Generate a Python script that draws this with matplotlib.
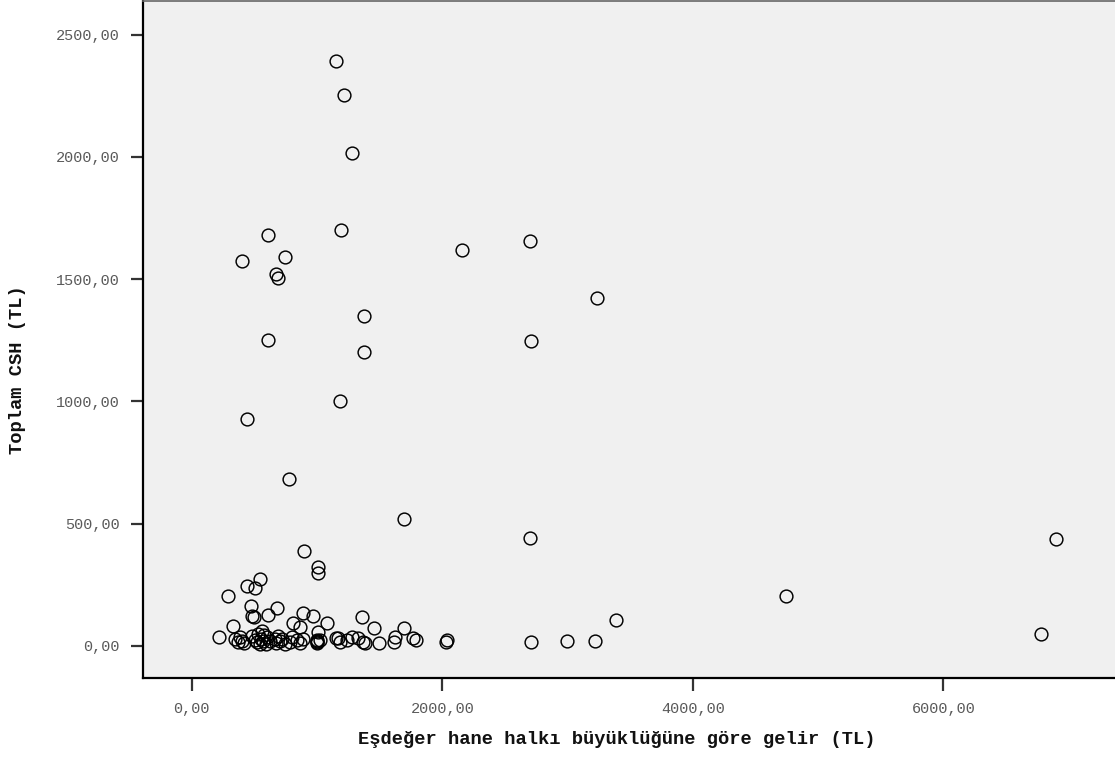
import matplotlib
matplotlib.use("Agg")
import matplotlib.pyplot as plt
from matplotlib.ticker import FixedLocator, FuncFormatter

# Equivalised household income (TL) and total health expenditure (TL)
gelir = [
    1152, 1215, 1279, 609, 1192, 2157, 2700, 402, 745, 673, 689, 3234,
    1375, 609, 2707, 1375, 1184, 441, 777, 1694, 2700, 6898, 897, 1010,
    1010, 543, 438, 505, 292, 4743, 471, 678, 3386, 6778, 2707, 2996, 3219,
    1357, 1082, 1455, 1694, 891, 970, 811, 864, 1010, 332, 479, 497, 611,
    218, 346, 370, 386, 402, 420, 481, 505, 521, 529, 545, 553, 561, 569,
    577, 593, 601, 625, 665, 673, 689, 705, 721, 745, 785, 801, 841, 865,
    889, 1000, 1000, 1000, 1000, 1025, 1152, 1170, 1184, 1241, 1277, 1330,
    1370, 1383, 1497, 1615, 1622, 1769, 1790, 2030, 2035,
]
csh = [
    2392, 2253, 2016, 1680, 1701, 1619, 1656, 1574, 1590, 1521, 1504, 1423,
    1349, 1251, 1247, 1202, 1002, 928, 683, 519, 442, 437, 388, 322,
    300, 274, 245, 238, 206, 204, 165, 157, 106, 49, 16, 20, 20,
    120, 95, 75, 75, 136, 123, 95, 79, 58, 82, 123, 120, 127,
    36, 30, 18, 35, 22, 12, 40, 25, 15, 50, 8, 30, 60, 20,
    45, 10, 35, 22, 30, 12, 40, 20, 28, 8, 18, 36, 25, 12,
    30, 12, 20, 25, 15, 25, 32, 32, 18, 25, 38, 32,
    18, 11, 11, 15, 38, 34, 25, 18, 25,
]

x_ticks = [0, 2000, 4000, 6000]
y_ticks = [0, 500, 1000, 1500, 2000, 2500]
x_label = "Eşdeğer hane halkı büyüklüğüne göre gelir (TL)"
y_label = "Toplam CSH (TL)"

W, H, DPI = 1115, 757, 100
fig = plt.figure(figsize=(W / DPI, H / DPI), dpi=DPI)
fig.patch.set_facecolor("white")

left_px, right_px, top_px, bottom_px = 143, 1115, 1, 678
ax = fig.add_axes([left_px / W, (H - bottom_px) / H,
                   (right_px - left_px) / W, (bottom_px - top_px) / H])
ax.set_facecolor("#f0f0f0")

ax.plot(gelir, csh, linestyle="none", marker="o", markersize=9.2,
        markerfacecolor="none", markeredgecolor="black", markeredgewidth=1.05)

ax.set_xlim(-389, 7369)
ax.set_ylim(-131, 2637)

fmt = FuncFormatter(lambda v, p: f"{v:.2f}".replace(".", ","))
ax.xaxis.set_major_locator(FixedLocator(x_ticks))
ax.yaxis.set_major_locator(FixedLocator(y_ticks))
ax.xaxis.set_major_formatter(fmt)
ax.yaxis.set_major_formatter(fmt)

tick_font = {"family": ["Liberation Mono", "DejaVu Sans Mono"], "size": 11}
for lab in ax.get_xticklabels() + ax.get_yticklabels():
    lab.set_fontfamily(tick_font["family"])
    lab.set_fontsize(tick_font["size"])
    lab.set_color("#5a5a5a")

ax.tick_params(axis="both", direction="out", length=9, width=1.6,
               color="#333333", pad=8)

for side in ("left", "bottom"):
    ax.spines[side].set_color("black")
    ax.spines[side].set_linewidth(1.6)
ax.spines["top"].set_color("#666666")
ax.spines["top"].set_linewidth(1.2)
ax.spines["right"].set_visible(False)

label_font = dict(family=["Liberation Mono", "DejaVu Sans Mono"],
                  fontsize=13.5, fontweight="bold", color="#111111")
ax.set_xlabel(x_label, **label_font)
ax.set_ylabel(y_label, **label_font)
ax.xaxis.label.set_verticalalignment("center")
ax.yaxis.label.set_verticalalignment("center")
ax.xaxis.set_label_coords((617 - left_px) / (right_px - left_px),
                          (bottom_px - 740) / (bottom_px - top_px))
ax.yaxis.set_label_coords((18 - left_px) / (right_px - left_px),
                          (bottom_px - 370) / (bottom_px - top_px))

fig.savefig("out.png", dpi=DPI)
